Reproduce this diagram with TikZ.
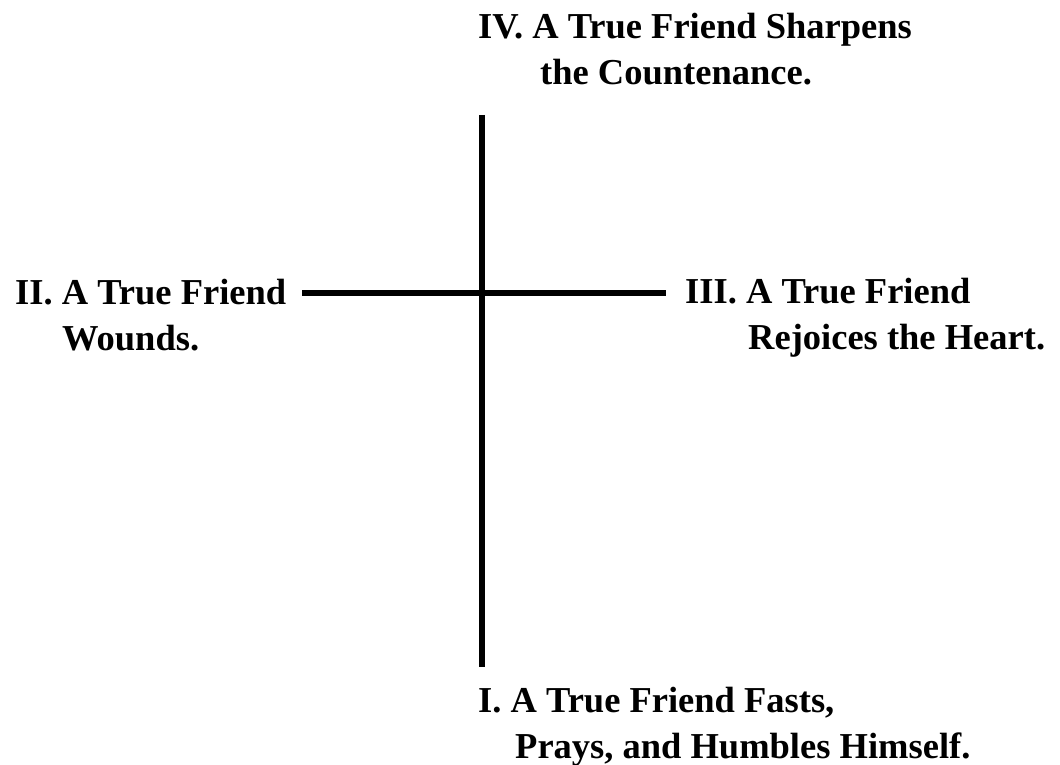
\documentclass[tikz,border=0pt]{standalone}
\usepackage{fontspec}
\setmainfont{Liberation Serif}
\usetikzlibrary{positioning}

\begin{document}
\begin{tikzpicture}[
  x=1pt, y=-1pt,
  lbl/.style={anchor=base west, inner sep=0pt, align=left,
              font=\fontsize{36.5}{46}\selectfont\bfseries},
  bar/.style={line width=6pt, draw=black},
]
\useasboundingbox (0,0) rectangle (1060,765);

% --- labels (placed by the baseline of their last line) ---
\node[lbl] (iv)  at (478,85)  {IV. A True Friend Sharpens\\\hspace*{62pt}the Countenance.};
\node[lbl] (ii)  at (15,350)  {II. A True Friend\\\hspace*{47pt}Wounds.};
\node[lbl] (iii) at (685,349) {III. A True Friend\\\hspace*{63pt}Rejoices the Heart.};
\node[lbl] (i)   at (478,758) {I. A True Friend Fasts,\\\hspace*{37pt}Prays, and Humbles Himself.};

% --- cross ---
\coordinate (ctop)   at (482,115);
\coordinate (cbot)   at (482,667);
\coordinate (cleft)  at (302,293);
\coordinate (cright) at (666,293);
\draw[bar] (ctop) -- (cbot);
\draw[bar] (cleft) -- (cright);
\end{tikzpicture}
\end{document}
